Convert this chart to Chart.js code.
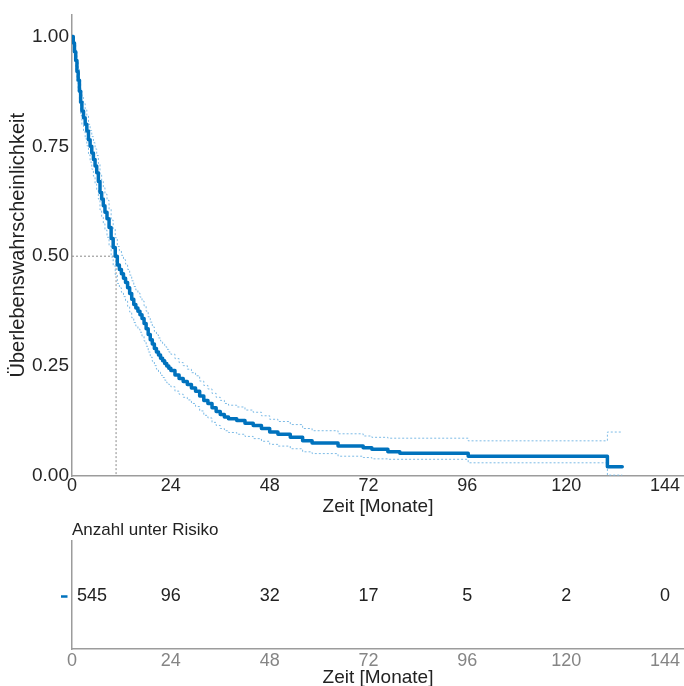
<!DOCTYPE html>
<html>
<head>
<meta charset="utf-8">
<script src="https://cdn.jsdelivr.net/npm/chart.js@4/dist/chart.umd.min.js"></script>
<style>
  html, body { margin: 0; padding: 0; background: #fff; overflow: hidden; }
  #wrap { position: relative; width: 684px; height: 686px; }
  #kmChart { position: absolute; left: 0; top: 0; }
  #riskChart { position: absolute; left: 0; top: 516px; }
</style>
</head>
<body>
<div id="wrap">
  <canvas id="kmChart" width="684" height="516"></canvas>
  <canvas id="riskChart" width="684" height="171"></canvas>
</div>
<script>
/* ── Daten ───────────────────────────────────── */
const zeit = [0, 0.3, 0.6, 0.9, 1.2, 1.5, 1.8, 2.1, 2.4, 2.8, 3.2, 3.6, 4.0, 4.4, 4.8, 5.2, 5.6, 6.0, 6.4, 6.8,
  7.2, 7.6, 8.0, 8.5, 9.0, 9.5, 10.0, 10.5, 11, 11.5, 12, 12.5, 13, 13.5, 14, 14.5, 15, 15.5, 16, 16.5, 17, 17.5,
  18, 18.5, 19, 19.5, 20, 20.5, 21, 21.5, 22, 22.5, 23, 23.5, 24, 25, 26, 27,
  28, 29, 30, 31, 32, 33, 34, 35, 36, 37, 38, 40, 42, 44, 46, 48, 50, 53, 56, 58.3, 64.6, 70.7, 72.8, 76.7,
  79.6, 96.2, 130, 133.6];
const ueberleben = [1, .985, .965, .945, .92, .9, .875, .85, .83, .815, .8, .785, .765, .75, .735, .72, .705, .69,
  .67, .645, .63, .615, .6, .585, .565, .54, .52, .5, .48, .47, .46, .45, .44, .428, .415, .402, .39, .382, .375,
  .367, .358, .347, .335, .322, .31, .3, .29, .282, .275, .268, .262, .256, .25, .245, .24, .23, .222, .215,
  .208, .2, .193, .182, .172, .165, .155, .147, .14, .134, .13, .126, .12, .115,
  .108, .1, .095, .088, .08, .075, .068, .064, .061, .055, .052, .045, .021, .021];
const ciOben = [1, .995, .98, .965, .943, .925, .902, .88, .861, .847, .833, .819, .8, .786, .772, .758, .744, .729,
  .71, .685, .67, .656, .641, .627, .607, .582, .562, .542, .522, .512, .502, .492, .482, .47, .457, .444, .431,
  .423, .416, .407, .398, .387, .375, .362, .35, .339, .329, .321, .314, .307, .3, .294, .288, .282, .277, .267,
  .258, .251, .243, .235, .228, .216, .206, .198, .188, .179, .172, .165, .161,
  .157, .15, .145, .137, .129, .124, .117, .108, .103, .096, .091, .088, .086, .086, .08, .1, .1];
const ciUnten = [1, .975, .95, .925, .897, .875, .848, .82, .799, .783, .767, .751, .73, .714, .698, .682, .666, .651,
  .63, .605, .59, .574, .559, .543, .523, .498, .478, .458, .438, .428, .418, .408, .398, .386, .373, .36, .349,
  .341, .334, .327, .318, .307, .295, .282, .27, .261, .251, .243, .236, .229, .224, .218, .212, .208, .203, .193,
  .186, .179, .173, .165, .158, .148, .138, .132, .122, .115, .108, .103, .099,
  .095, .09, .085, .079, .072, .068, .062, .055, .051, .045, .042, .039, .038, .038, .03, .002, .002];
const medianZeit = 10.7;
const xTicks = [0, 24, 48, 72, 96, 120, 144];
const yTicks = [0, 0.25, 0.5, 0.75, 1];
const risikoZeit = [0, 24, 48, 72, 96, 120, 144];
const risikoAnzahl = [545, 96, 32, 17, 5, 2, 0];

/* ── Stil ────────────────────────────────────── */
const FONT = "'Liberation Sans', Arial, sans-serif";
const BLUE = "#0072BD";
const CI_BLUE = "#7dbbe6";
const AXIS = "#9c9c9c";

const pts = (ys) => zeit.map((t, i) => ({ x: t, y: ys[i] }));

function xScale(tickColor, height, pad) {
  return {
    type: "linear",
    min: 0,
    max: 148.6,
    afterBuildTicks: (s) => { s.ticks = xTicks.map((v) => ({ value: v })); },
    afterFit: (s) => { s.height = height; },
    grid: { display: false, drawTicks: false },
    border: { color: AXIS, width: 1.5 },
    ticks: { color: tickColor, padding: pad, font: { family: FONT, size: 18, lineHeight: 1 } },
    title: {
      display: true,
      text: "Zeit [Monate]",
      color: "#222",
      padding: { top: 0, bottom: 0 },
      font: { family: FONT, size: 19, lineHeight: 1 },
    },
  };
}

/* ── Kaplan-Meier ────────────────────────────── */
new Chart(document.getElementById("kmChart"), {
  type: "line",
  data: {
    datasets: [
      {
        data: pts(ueberleben), borderColor: BLUE, borderWidth: 3.5, stepped: "before", pointRadius: 0,
        borderJoinStyle: "round", borderCapStyle: "round",
      },
      { data: pts(ciOben), borderColor: CI_BLUE, borderWidth: 1, borderDash: [2, 2], stepped: "before", pointRadius: 0 },
      { data: pts(ciUnten), borderColor: CI_BLUE, borderWidth: 1, borderDash: [2, 2], stepped: "before", pointRadius: 0 },
      {
        data: [{ x: 0, y: 0.5 }, { x: medianZeit, y: 0.5 }, { x: medianZeit, y: 0 }],
        borderColor: "#8a8a8a", borderWidth: 1, borderDash: [2, 2], pointRadius: 0,
      },
    ],
  },
  options: {
    responsive: false,
    animation: false,
    layout: { padding: { top: 13, left: 0, right: 0, bottom: 0 } },
    plugins: { legend: { display: false }, tooltip: { enabled: false } },
    scales: {
      x: xScale("#262626", 40, 1),
      y: {
        type: "linear",
        min: 0,
        max: 1.05,
        afterBuildTicks: (s) => { s.ticks = yTicks.map((v) => ({ value: v })); },
        afterFit: (s) => { s.width = 72; },
        grid: { display: false, drawTicks: false },
        border: { color: AXIS, width: 1.5 },
        ticks: { color: "#262626", padding: 3, font: { family: FONT, size: 19 }, callback: (v) => v.toFixed(2) },
        title: {
          display: true,
          text: "Überlebenswahrscheinlichkeit",
          color: "#222",
          padding: { top: 8, bottom: 0 },
          font: { family: FONT, size: 20, lineHeight: 1 },
        },
      },
    },
  },
});

/* ── Anzahl unter Risiko ─────────────────────── */
const risikoText = {
  id: "risikoText",
  afterDraw(chart) {
    const { ctx, chartArea } = chart;
    const meta = chart.getDatasetMeta(0);
    ctx.save();
    ctx.fillStyle = "#222";
    ctx.font = `17px ${FONT}`;
    ctx.textBaseline = "middle";
    ctx.textAlign = "left";
    ctx.fillText("Anzahl unter Risiko", chartArea.left, chartArea.top - 11);
    ctx.font = `18px ${FONT}`;
    meta.data.forEach((pt, i) => {
      ctx.textAlign = i === 0 ? "left" : "center";
      ctx.fillText(String(risikoAnzahl[i]), i === 0 ? pt.x + 5 : pt.x, pt.y);
    });
    ctx.restore();
  },
};

new Chart(document.getElementById("riskChart"), {
  type: "scatter",
  data: {
    datasets: [{ data: risikoZeit.map((t) => ({ x: t, y: 0.49 })), pointRadius: 0 }],
  },
  options: {
    responsive: false,
    animation: false,
    layout: { padding: { top: 25, left: 0, right: 0, bottom: 0 } },
    plugins: { legend: { display: false }, tooltip: { enabled: false } },
    scales: {
      x: xScale("#858585", 38, 3),
      y: {
        type: "linear",
        min: 0,
        max: 1,
        afterBuildTicks: (s) => { s.ticks = [{ value: 0.49 }]; },
        afterFit: (s) => { s.width = 72; },
        grid: {
          display: true,
          drawOnChartArea: false,
          drawTicks: true,
          tickLength: 11,
          tickColor: BLUE,
          tickWidth: 2.5,
          tickBorderDash: [6.5, 20],
        },
        border: { color: AXIS, width: 1.5 },
        ticks: { callback: () => "", padding: 0 },
      },
    },
  },
  plugins: [risikoText],
});
</script>
</body>
</html>
